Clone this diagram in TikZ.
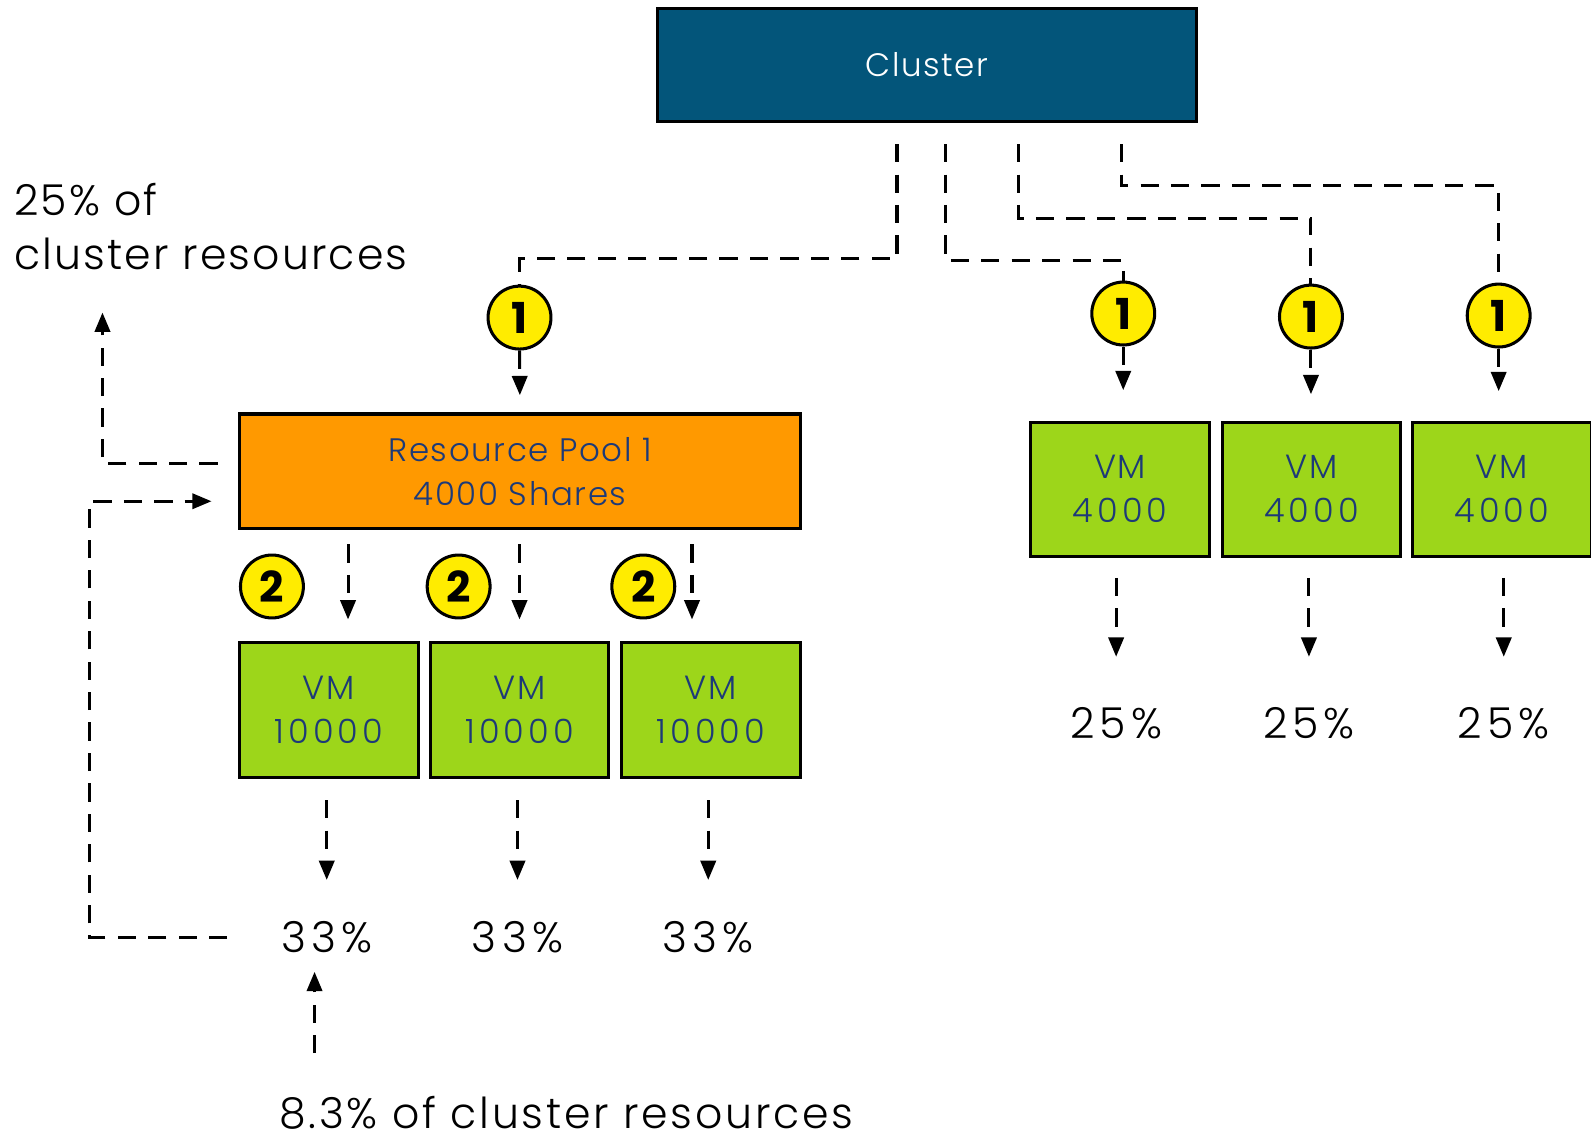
\documentclass[tikz,border=0pt]{standalone}
\usepackage{fontspec}
\setmainfont{Poppins}[UprightFont={* Light}, BoldFont={* Bold}, LetterSpace=5]
\newfontfamily\badgefont{Poppins}[UprightFont={* Bold}]
\usetikzlibrary{arrows.meta,calc}

\definecolor{clusterblue}{HTML}{03557A}
\definecolor{poolorange}{HTML}{FF9900}
\definecolor{vmgreen}{HTML}{9DD61A}
\definecolor{badgeyellow}{HTML}{FFEC00}
\definecolor{navytext}{HTML}{1D3A78}

% wider tracking for figures
\newcommand\figs[1]{{\addfontfeature{LetterSpace=12}#1}}

\begin{document}
\begin{tikzpicture}[x=1pt,y=-1pt,
  box/.style={draw=black, line width=3pt, inner sep=0pt, align=center},
  clusterbox/.style={box, fill=clusterblue, text=white, minimum width=531pt, minimum height=112pt,
    font=\fontsize{32}{40}\selectfont},
  poolbox/.style={box, fill=poolorange, text=navytext, minimum width=553pt, minimum height=113pt,
    font=\fontsize{32}{43}\selectfont},
  vmbox/.style={box, fill=vmgreen, text=navytext, minimum width=176pt, minimum height=133pt,
    font=\fontsize{33}{43}\selectfont},
  badge/.style={circle, draw=black, line width=3pt, fill=badgeyellow, minimum size=62pt, inner sep=0pt,
    font=\badgefont\fontsize{42}{42}\selectfont},
  pct/.style={inner sep=0pt, font=\fontsize{42}{54}\selectfont},
  dline/.style={line width=3pt, dash pattern=on 18pt off 12pt},
  flow/.style={-{Triangle[length=19pt,width=15pt]}}
]
\useasboundingbox (0,0) rectangle (1568,1116);

% boxes
\node[clusterbox] (cluster) at (913.5,64) {Cluster};
\node[poolbox] (pool) at (512.5,464.5) {Resource Pool 1\\4000 Shares};
\node[vmbox] (vm1) at (324,699.5) {VM\\\figs{10000}};
\node[vmbox] (vm2) at (512,699.5) {VM\\\figs{10000}};
\node[vmbox] (vm3) at (700.5,699.5) {VM\\\figs{10000}};
\node[vmbox, minimum height=132pt] (vmR1) at (1104,482) {VM\\\figs{4000}};
\node[vmbox, minimum height=132pt] (vmR2) at (1292.5,482) {VM\\\figs{4000}};
\node[vmbox, minimum height=132pt] (vmR3) at (1480,482) {VM\\\figs{4000}};

% numbered badges
\node[badge] (b0) at (512,313) {1};
\node[badge] (bR1) at (1107,309) {1};
\node[badge] (bR2) at (1292,312) {1};
\node[badge] (bR3) at (1477,311) {1};
\node[badge] (b21) at (268,578) {2};
\node[badge] (b22) at (452,578) {2};
\node[badge] (b23) at (634,578) {2};

% percentages
\node[pct] (p1) at (322,924) {\figs{33\%}};
\node[pct] (p2) at (510,924) {\figs{33\%}};
\node[pct] (p3) at (698,924) {\figs{33\%}};
\node[pct] (r1) at (1100,713) {\figs{25\%}};
\node[pct] (r2) at (1290,713) {\figs{25\%}};
\node[pct] (r3) at (1482,713) {\figs{25\%}};

% side labels
\node[pct, anchor=north west, align=left] (shareTop) at (14,180) {25\% of\\cluster resources};
\node[pct, anchor=base west] (shareBot) at (275,1112) {\addfontfeature{LetterSpace=6.5}8.3\% of cluster resources};

% connector end points
\coordinate (t1) at (884,142);
\coordinate (t2) at (932,142);
\coordinate (t3) at (1004,142);
\coordinate (t4) at (1105,142);
\coordinate (d1) at (343,0);
\coordinate (d2) at (512,0);
\coordinate (d3) at (682,0);
\coordinate (upTip) at (101,308);
\coordinate (loopCorner) at (88,494);
\coordinate (upBase) at (310,1038);
\coordinate (leftY) at (0,457);

% cluster to badges
\draw[dline] (t1) -- (884,255) -| (b0.north);
\draw[dline] (t2) -- (932,257) -| (bR1.north);
\draw[dline] (t3) -- (1004,215) -| (bR2.north);
\draw[dline] (t4) -- (1105,183) -| (bR3.north);

% badges to boxes
\draw[dline, flow, shorten >=17pt] (b0.south) -- (pool.north);
\draw[dline, flow, shorten >=30pt] (bR1.south) -- (bR1.south |- vmR1.north);
\draw[dline, flow, shorten >=26pt] (bR2.south) -- (bR2.south |- vmR2.north);
\draw[dline, flow, shorten >=29pt] (bR3.south) -- (bR3.south |- vmR3.north);

% pool to its VMs
\draw[dline, flow, shorten <=14pt, shorten >=21pt] (pool.south -| d1) -- (vm1.north -| d1);
\draw[dline, flow, shorten <=14pt, shorten >=21pt] (pool.south -| d2) -- (vm2.north -| d2);
\draw[dline, flow, shorten <=14pt, shorten >=21pt] (pool.south -| d3) -- (vm3.north -| d3);

% VMs to percentages
\draw[dline, flow, shorten <=21pt, shorten >=41pt] (vm1.south -| p1) -- (p1.north);
\draw[dline, flow, shorten <=21pt, shorten >=41pt] (vm2.south -| p2) -- (p2.north);
\draw[dline, flow, shorten <=21pt, shorten >=41pt] (vm3.south -| p3) -- (p3.north);
\draw[dline, flow, shorten <=20pt, shorten >=50pt] (vmR1.south -| r1) -- (r1.north);
\draw[dline, flow, shorten <=20pt, shorten >=50pt] (vmR2.south -| r2) -- (r2.north);
\draw[dline, flow, shorten <=20pt, shorten >=50pt] (vmR3.south -| r3) -- (r3.north);

% pool share of the cluster
\draw[dline, flow, shorten <=20pt] (pool.west |- leftY) -| (upTip);

% per-VM share fed back into the pool
\draw[dline, flow, shorten <=53pt, shorten >=26pt] (p1.west) -| (loopCorner) -- (pool.west |- loopCorner);
\draw[dline, flow, shorten >=18pt] (upBase) -- (p1.south -| upBase);
\end{tikzpicture}
\end{document}
